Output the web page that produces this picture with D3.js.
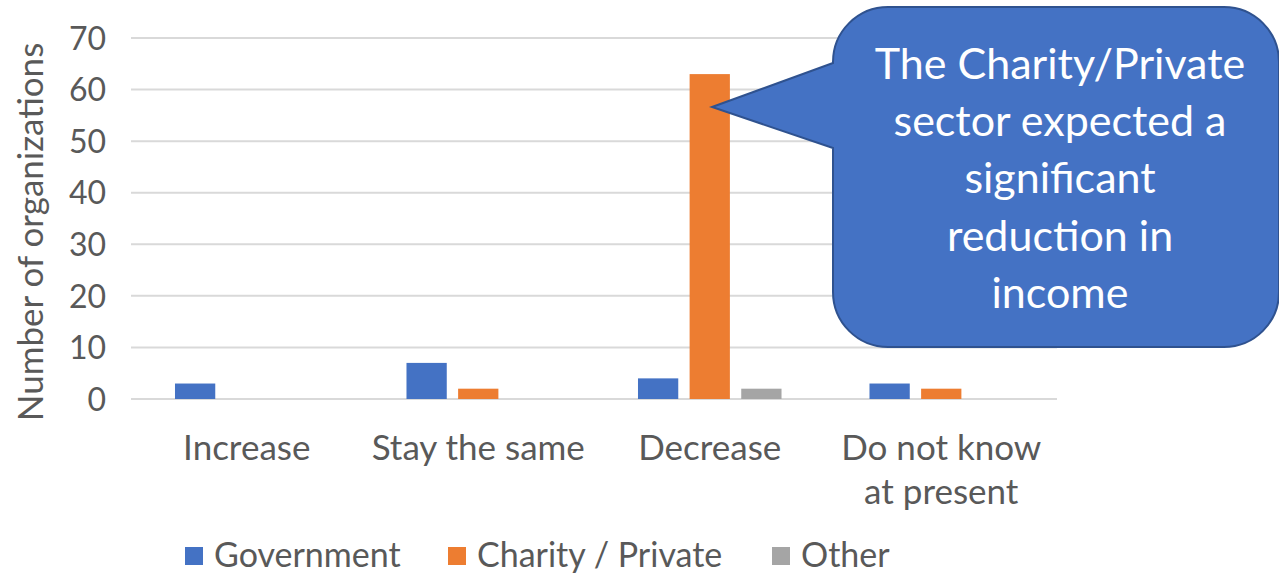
<!DOCTYPE html>
<html><head><meta charset="utf-8">
<script src="https://cdn.jsdelivr.net/npm/d3@7"></script>
<style>html,body{margin:0;padding:0;background:#fff;overflow:hidden}</style>
</head><body>
<svg id="c" width="1279" height="577"></svg>
<script>
const categories = [["Increase"], ["Stay the same"], ["Decrease"], ["Do not know", "at present"]];
const seriesNames = ["Government", "Charity / Private", "Other"];
const government = [3, 7, 4, 3];
const charity = [0, 2, 63, 2];
const other = [0, 0, 2, 0];
const yTicks = [0, 10, 20, 30, 40, 50, 60, 70];
const colors = ["#4472C4", "#ED7D31", "#A5A5A5"];
const calloutLines = ["The Charity/Private", "sector expected a", "significant", "reduction in", "income"];

const FONT = "Lato, 'Open Sans', sans-serif";
const svg = d3.select("#c");
const catKeys = categories.map(c => c.join(" "));
const seriesVals = [government, charity, other];

const x0 = d3.scaleBand().domain(catKeys).range([131, 1057]).paddingInner(0.38).paddingOuter(0.19);
const x1 = d3.scaleBand().domain(seriesNames).range([0, x0.bandwidth()]).paddingInner(0.22).paddingOuter(0);
const y = d3.scaleLinear().domain([0, 70]).range([399, 38]);

// gridlines
svg.append("g").selectAll("line").data(yTicks).join("line")
  .attr("x1", 131).attr("x2", 1057)
  .attr("y1", d => y(d)).attr("y2", d => y(d))
  .attr("stroke", "#D9D9D9").attr("stroke-width", 2);

// y axis labels
const yAxis = d3.axisLeft(y).tickValues(yTicks).tickSize(0).tickPadding(0);
const ya = svg.append("g").attr("transform", "translate(106,0)").call(yAxis);
ya.select(".domain").remove();
ya.selectAll("text").attr("font-family", FONT).attr("font-size", 32).attr("fill", "#595959").attr("dy", "0.35em");

// y title
svg.append("text").attr("transform", "translate(43,232) rotate(-90)")
  .attr("text-anchor", "middle").attr("font-family", FONT).attr("font-size", 35).attr("fill", "#595959")
  .text("Number of organizations");

// bars
seriesNames.forEach((s, si) => {
  svg.append("g").selectAll("rect").data(catKeys).join("rect")
    .attr("x", (c) => x0(c) + x1(s))
    .attr("width", x1.bandwidth())
    .attr("y", (c, i) => y(seriesVals[si][i]))
    .attr("height", (c, i) => y(0) - y(seriesVals[si][i]))
    .attr("fill", colors[si]);
});

// category labels
const cl = svg.append("g");
categories.forEach((lines, i) => {
  const cx = x0(catKeys[i]) + x0.bandwidth() / 2;
  lines.forEach((t, j) => {
    cl.append("text").attr("x", cx).attr("y", 448 + j * 44).attr("dy", "0.35em")
      .attr("text-anchor", "middle").attr("font-family", FONT).attr("font-size", 35).attr("fill", "#595959").text(t);
  });
});

// legend
const legendX = [185, 448, 772];
seriesNames.forEach((s, i) => {
  svg.append("rect").attr("x", legendX[i]).attr("y", 547).attr("width", 18).attr("height", 18).attr("fill", colors[i]);
  svg.append("text").attr("x", legendX[i] + 29).attr("y", 555).attr("dy", "0.35em")
    .attr("font-family", FONT).attr("font-size", 34).attr("fill", "#595959").text(s);
});

// callout
const bx = 833, by = 7, bw = 446, bh = 340, r = 55;
const tip = [712, 107];
const p = d3.path();
p.moveTo(bx + r, by);
p.lineTo(bx + bw - r, by);
p.arcTo(bx + bw, by, bx + bw, by + r, r);
p.lineTo(bx + bw, by + bh - r);
p.arcTo(bx + bw, by + bh, bx + bw - r, by + bh, r);
p.lineTo(bx + r, by + bh);
p.arcTo(bx, by + bh, bx, by + bh - r, r);
p.lineTo(bx, 148);
p.lineTo(tip[0], tip[1]);
p.lineTo(bx, 63);
p.lineTo(bx, by + r);
p.arcTo(bx, by, bx + r, by, r);
p.closePath();
svg.append("path").attr("d", p.toString()).attr("fill", "#4472C4").attr("stroke", "#2F528F").attr("stroke-width", 2);

calloutLines.forEach((t, i) => {
  svg.append("text").attr("x", 1060).attr("y", 64 + i * 57.2).attr("dy", "0.35em")
    .attr("text-anchor", "middle").attr("font-family", FONT).attr("font-size", 43).attr("fill", "#fff").text(t);
});
</script>
</body></html>
